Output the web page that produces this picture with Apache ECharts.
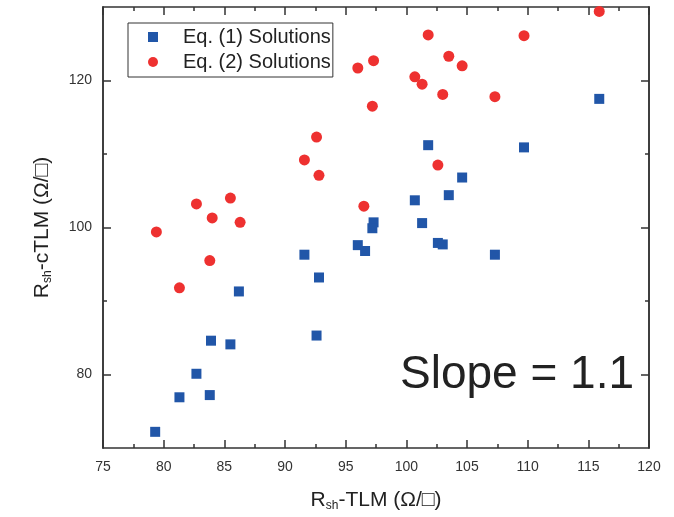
<!DOCTYPE html>
<html>
<head>
<meta charset="utf-8">
<script src="https://cdn.jsdelivr.net/npm/echarts@6/dist/echarts.min.js"></script>
<style>
html,body{margin:0;padding:0;background:#fff;}
#chart{width:674px;height:517px;}
</style>
</head>
<body>
<div id="chart"></div>
<script>
// Eq. (1) solutions: [Rsh-TLM, Rsh-cTLM]
const eq1X = [79.3, 81.3, 82.7, 83.8, 83.9, 85.5, 86.2, 91.6, 92.8, 92.6, 96.0, 96.6, 97.3, 97.2, 100.7, 101.3, 101.8, 102.6, 103.0, 103.5, 104.6, 109.7, 107.3, 115.9];
const eq1Y = [72.2, 76.9, 80.1, 77.2, 84.6, 84.1, 91.3, 96.3, 93.2, 85.3, 97.6, 96.8, 100.7, 99.9, 103.7, 100.6, 111.2, 97.9, 97.7, 104.4, 106.8, 110.9, 96.3, 117.5];
// Eq. (2) solutions
const eq2X = [79.4, 81.3, 82.7, 84.0, 83.8, 85.5, 86.3, 91.6, 92.6, 92.8, 96.0, 96.5, 97.3, 97.2, 100.7, 101.3, 101.8, 102.6, 103.0, 103.5, 104.6, 109.7, 107.3, 115.9];
const eq2Y = [99.4, 91.8, 103.2, 101.3, 95.5, 104.0, 100.7, 109.2, 112.3, 107.1, 121.7, 102.9, 122.7, 116.5, 120.5, 119.5, 126.2, 108.5, 118.1, 123.3, 122.0, 126.1, 117.8, 129.4];
const xTicks = [75, 80, 85, 90, 95, 100, 105, 110, 115, 120];
const yMajor = [80, 100, 120];
const yMinor = [90, 110];
const seriesNames = ['Eq. (1) Solutions', 'Eq. (2) Solutions'];
const xTitle = '{n|R}{s|sh}{n|-TLM (Ω/□)}';
const yTitle = '{n|R}{s|sh}{n|-cTLM (Ω/□)}';
const slopeText = 'Slope = 1.1';

const FONT = "'Liberation Sans', Arial, sans-serif";
const AX = '#333';
const titleRich = {
  n: {fontSize: 21, lineHeight: 22, color: '#222', fontFamily: FONT, verticalAlign: 'top', padding: [0, 0, 5, 0]},
  s: {fontSize: 12, lineHeight: 12, color: '#222', fontFamily: FONT, verticalAlign: 'bottom'}
};

function yAx(pos, ticks, len, labels) {
  return {
    type: 'value', position: pos, min: 70, max: 130, interval: 10,
    axisLine: {show: true, lineStyle: {color: AX, width: 1.5}},
    axisTick: {show: true, inside: true, length: len, customValues: ticks, lineStyle: {color: AX, width: 1.5}},
    axisLabel: {show: labels, customValues: yMajor, margin: 11, fontSize: 14, color: '#333', fontFamily: FONT},
    splitLine: {show: false}
  };
}
function xAx(pos, labels) {
  return {
    type: 'value', position: pos, min: 75, max: 120, interval: 5,
    axisLine: {show: true, lineStyle: {color: AX, width: 1.5}},
    axisTick: {show: true, inside: true, length: 8, lineStyle: {color: AX, width: 1.5}},
    minorTick: {show: true, splitNumber: 2, length: 4, lineStyle: {color: AX, width: 1.5}},
    axisLabel: {show: labels, margin: 12, fontSize: 14, color: '#333', fontFamily: FONT,
      customValues: xTicks},
    splitLine: {show: false}, minorSplitLine: {show: false}
  };
}

const chart = echarts.init(document.getElementById('chart'));
const xa0 = xAx('bottom', true);
xa0.name = xTitle; xa0.nameLocation = 'middle'; xa0.nameGap = 42;
xa0.nameTextStyle = {rich: titleRich};
const ya0 = yAx('left', yMajor, 8, true);
ya0.name = yTitle; ya0.nameLocation = 'middle'; ya0.nameGap = 41; ya0.nameRotate = 90;
ya0.nameTextStyle = {rich: titleRich};

chart.setOption({
  backgroundColor: '#fff',
  animation: false,
  grid: {left: 103, right: 25, top: 7, bottom: 69, containLabel: false, outerBoundsMode: 'none'},
  xAxis: [xa0, xAx('top', false)],
  yAxis: [ya0, yAx('left', yMinor, 4, false), yAx('right', yMajor, 8, false), yAx('right', yMinor, 4, false)],
  legend: {
    orient: 'vertical', left: 128, top: 23,
    padding: [4, 2, 5, 20], itemGap: 5,
    itemWidth: 10, itemHeight: 10,
    borderColor: '#333', borderWidth: 1,
    textStyle: {fontSize: 20, color: '#222', fontFamily: FONT, padding: [0, 0, 0, 20]},
    data: [{name: seriesNames[0], icon: 'rect'}, {name: seriesNames[1], icon: 'circle'}]
  },
  graphic: [{
    type: 'text', left: 400, top: 352,
    style: {text: slopeText, fontSize: 46, fill: '#222', fontFamily: FONT}
  }],
  series: [
    {name: seriesNames[0], type: 'scatter', symbol: 'rect', symbolSize: 10,
     itemStyle: {color: '#2156a8', opacity: 1},
     data: eq1X.map((x, i) => [x, eq1Y[i]])},
    {name: seriesNames[1], type: 'scatter', symbol: 'circle', symbolSize: 11,
     itemStyle: {color: '#ee3130', opacity: 1},
     data: eq2X.map((x, i) => [x, eq2Y[i]])}
  ]
});
</script>
</body>
</html>
